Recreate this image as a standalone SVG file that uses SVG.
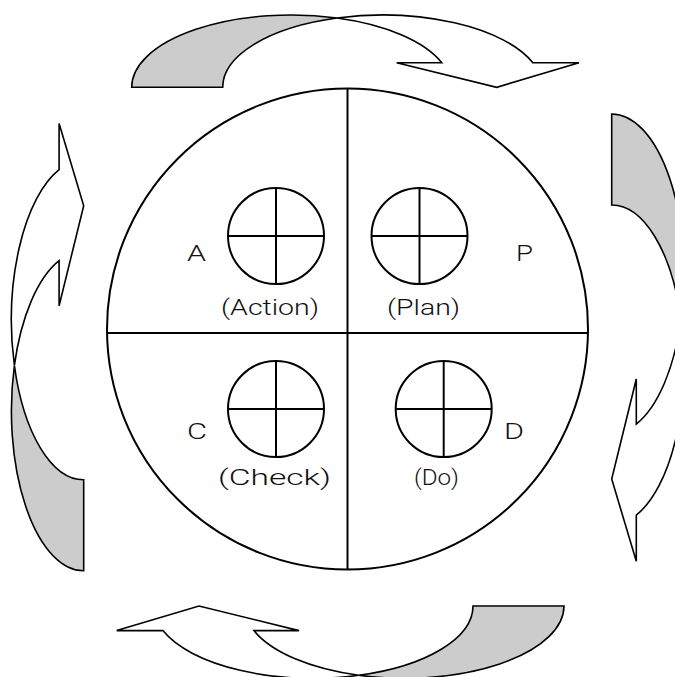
<svg xmlns="http://www.w3.org/2000/svg" width="675" height="677" viewBox="0 0 675 677">
  <style>
    .ln{fill:none;stroke:#000;stroke-width:2}
    .sc{fill:#fff;stroke:#000;stroke-width:2}
    .tail{fill:#cccccc;stroke:#000;stroke-width:1.6;stroke-linejoin:miter}
    .head{fill:#fff;stroke:#000;stroke-width:1.6;stroke-linejoin:miter}
    .t{font-family:"Roboto","Liberation Sans",sans-serif;font-weight:300;font-size:21.5px;fill:#111}
  </style>
  <defs>
    <g id="curvedArrow">
      <path class="tail" d="M131.7,87.3 A159.8,72.3 0 0 1 337,18 A159.8,72.3 0 0 0 222.7,87.3 Z"/>
      <path class="head" d="M337,18 A159.8,72.3 0 0 1 532.8,62.7 L579,62.7 L496.7,87.3 L396.7,62.7 L441.8,62.7 A159.8,72.3 0 0 0 337,18 Z"/>
    </g>
  </defs>
  <rect width="675" height="677" fill="#fff"/>

  <g id="connectors">
    <use id="arrow-top" href="#curvedArrow"/>
    <use id="arrow-right" href="#curvedArrow" transform="matrix(0 1 -1 0 699 -17.7)"/>
    <use id="arrow-bottom" href="#curvedArrow" transform="matrix(-1 0 0 -1 695.7 693.3)"/>
    <use id="arrow-left" href="#curvedArrow" transform="matrix(0 -1 1 0 -3.6 702.5)"/>
  </g>

  <g id="main-circle">
    <circle class="ln" cx="347.5" cy="329" r="240.5"/>
    <line class="ln" x1="347.5" y1="88.5" x2="347.5" y2="569.5"/>
    <line class="ln" x1="107.5" y1="333" x2="587.5" y2="333"/>
  </g>

  <g id="node-action">
    <circle class="sc" cx="276" cy="236" r="48"/>
    <line class="ln" x1="276" y1="188" x2="276" y2="284"/>
    <line class="ln" x1="228" y1="236" x2="324" y2="236"/>
    <text class="t" x="187" y="261" textLength="19" lengthAdjust="spacingAndGlyphs">A</text>
    <text class="t" x="221" y="315" textLength="98" lengthAdjust="spacingAndGlyphs">(Action)</text>
  </g>

  <g id="node-plan">
    <circle class="sc" cx="419.5" cy="236" r="48"/>
    <line class="ln" x1="419.5" y1="188" x2="419.5" y2="284"/>
    <line class="ln" x1="371.5" y1="236" x2="467.5" y2="236"/>
    <text class="t" x="516" y="261" textLength="17" lengthAdjust="spacingAndGlyphs">P</text>
    <text class="t" x="387" y="315" textLength="73" lengthAdjust="spacingAndGlyphs">(Plan)</text>
  </g>

  <g id="node-check">
    <circle class="sc" cx="276" cy="409" r="48"/>
    <line class="ln" x1="276" y1="361" x2="276" y2="457"/>
    <line class="ln" x1="228" y1="409" x2="324" y2="409"/>
    <text class="t" x="187" y="439" textLength="20" lengthAdjust="spacingAndGlyphs">C</text>
    <text class="t" x="218" y="485" textLength="113" lengthAdjust="spacingAndGlyphs">(Check)</text>
  </g>

  <g id="node-do">
    <circle class="sc" cx="443.7" cy="409" r="48"/>
    <line class="ln" x1="443.7" y1="361" x2="443.7" y2="457"/>
    <line class="ln" x1="395.7" y1="409" x2="491.7" y2="409"/>
    <text class="t" x="504" y="439" textLength="20" lengthAdjust="spacingAndGlyphs">D</text>
    <text class="t" x="414" y="485" textLength="45" lengthAdjust="spacingAndGlyphs">(Do)</text>
  </g>
</svg>
